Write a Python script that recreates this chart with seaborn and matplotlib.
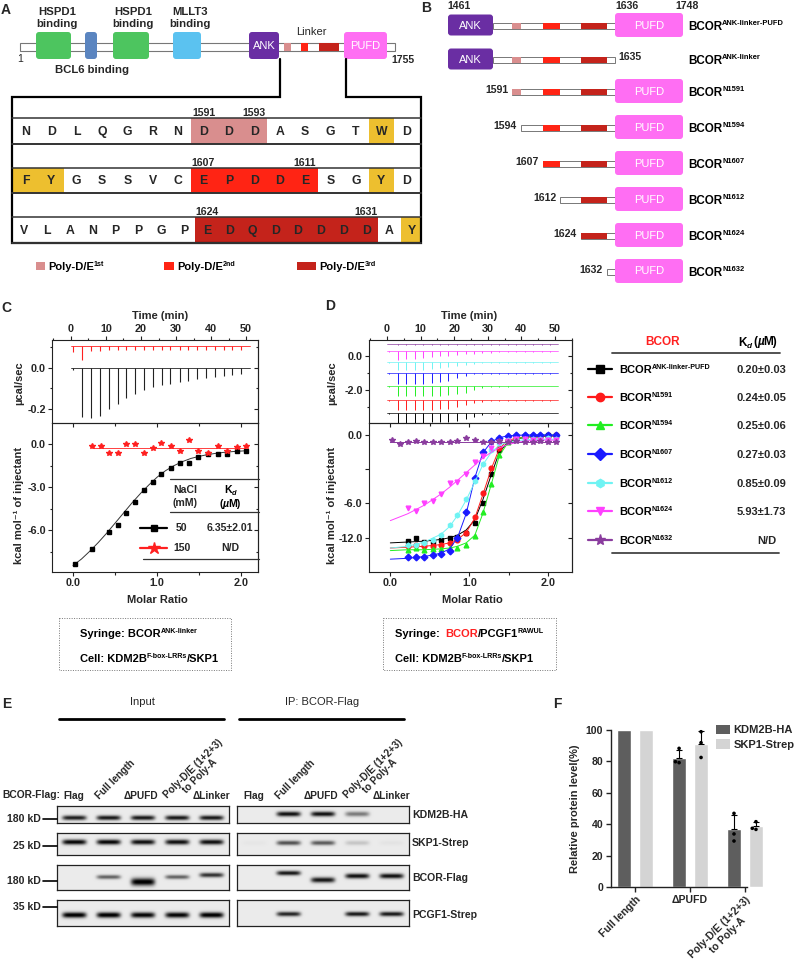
import numpy as np
import pandas as pd
import seaborn as sns
import matplotlib.pyplot as plt
from matplotlib.patches import Rectangle, FancyBboxPatch
from matplotlib.ticker import MultipleLocator, FixedLocator, FixedFormatter, FormatStrFormatter

sns.set_theme(style='ticks')
plt.rcParams['font.family'] = ['Liberation Sans', 'DejaVu Sans']
plt.rcParams['font.weight'] = 'bold'
plt.rcParams['axes.labelweight'] = 'bold'
plt.rcParams['axes.linewidth'] = 0.8

# ---------------- data ----------------
# A: BCOR schematic and linker sequence
domain_names = ['HSPD1\nbinding', 'BCL6 binding', 'HSPD1\nbinding', 'MLLT3\nbinding', 'ANK', 'PUFD']
protein_len = 1755
seq_rows = ['NDLQGRNDDDASGTWD', 'FYGSSVCEPDDESGYD', 'VLANPPGPEDQDDDDDAY']
seq_start = [1584, 1600, 1616]
polyde = [(1591, 1593), (1607, 1611), (1624, 1631)]
polyde_names = ['1st', '2nd', '3rd']
aromatic = 'FWY'

# B: constructs
constructs = ['ANK-linker-PUFD', 'ANK-linker', 'N1591', 'N1594', 'N1607', 'N1612', 'N1624', 'N1632']
con_start = [1461, 1461, 1591, 1594, 1607, 1612, 1624, 1632]
con_end = [1748, 1635, 1748, 1748, 1748, 1748, 1748, 1748]
ank_end = 1553
pufd_start, pufd_end = 1636, 1748

# C: ITC BCOR ANK-linker into KDM2B/SKP1
inj_times = [0.7, 3.2, 5.7, 8.3, 10.8, 13.3, 15.8, 18.3, 20.9, 23.4,
             25.9, 28.4, 31.0, 33.5, 36.0, 38.5, 41.1, 43.6, 46.1, 48.6]
c_raw_50 = [0.01, 0.24, 0.245, 0.235, 0.20, 0.175, 0.148, 0.125, 0.108, 0.095,
            0.086, 0.078, 0.07, 0.063, 0.057, 0.05, 0.044, 0.04, 0.036, 0.032]
c_raw_150 = [0.03, 0.07, 0.025, 0.025, 0.02, 0.02, 0.02, 0.02, 0.02, 0.02,
             0.02, 0.02, 0.02, 0.02, 0.02, 0.02, 0.02, 0.02, 0.02, 0.02]
c_ratio_50 = [0.02, 0.22, 0.43, 0.53, 0.63, 0.74, 0.85, 0.95, 1.05, 1.16,
              1.27, 1.38, 1.49, 1.60, 1.72, 1.83, 1.95, 2.06]
c_heat_50 = [-8.33, -7.28, -6.12, -5.61, -4.77, -4.0, -3.21, -2.67, -2.07, -1.65,
             -1.28, -1.28, -0.88, -0.72, -0.70, -0.67, -0.47, -0.47]
c_fit_x = [0.0, 0.1, 0.2, 0.3, 0.4, 0.5, 0.6, 0.7, 0.8, 0.9, 1.0,
           1.1, 1.2, 1.3, 1.4, 1.5, 1.6, 1.7, 1.8, 1.9, 2.06]
c_fit_50 = [-8.45, -8.0, -7.45, -6.85, -6.2, -5.5, -4.8, -4.1, -3.45, -2.85, -2.3,
            -1.85, -1.5, -1.22, -1.0, -0.85, -0.73, -0.64, -0.57, -0.52, -0.46]
c_ratio_150 = [0.22, 0.33, 0.43, 0.53, 0.63, 0.74, 0.85, 0.95, 1.05, 1.16,
               1.27, 1.38, 1.49, 1.60, 1.72, 1.83, 1.95, 2.06]
c_heat_150 = [-0.14, -0.14, -0.6, -0.6, 0.0, 0.0, -0.6, -0.26, 0.09, -0.12,
              -0.47, 0.26, -0.47, -0.6, -0.14, -0.47, -0.23, -0.12]
c_fit_150 = -0.25
c_salt = ['50', '150']
c_kd = ['6.35\u00b12.01', 'N/D']

# D: ITC BCOR variants / PCGF1 into KDM2B/SKP1
d_names = ['ANK-linker-PUFD', 'N1591', 'N1594', 'N1607', 'N1612', 'N1624', 'N1632']
d_kd = ['0.20\u00b10.03', '0.24\u00b10.05', '0.25\u00b10.06', '0.27\u00b10.03',
        '0.85\u00b10.09', '5.93\u00b11.73', 'N/D']
d_offset = [-3.35, -2.59, -1.76, -1.0, -0.35, 0.29, 0.71]
d_raw = [
    [0.05, 0.58, 0.58, 0.58, 0.57, 0.56, 0.55, 0.52, 0.47, 0.36, 0.22, 0.12, 0.07, 0.05, 0.04, 0.03, 0.03, 0.03, 0.03, 0.03],
    [0.05, 0.60, 0.60, 0.60, 0.58, 0.56, 0.54, 0.50, 0.43, 0.30, 0.18, 0.10, 0.06, 0.05, 0.04, 0.03, 0.03, 0.03, 0.03, 0.03],
    [0.05, 0.60, 0.60, 0.60, 0.59, 0.58, 0.57, 0.55, 0.50, 0.40, 0.26, 0.14, 0.07, 0.05, 0.04, 0.03, 0.03, 0.03, 0.03, 0.03],
    [0.05, 0.65, 0.65, 0.64, 0.62, 0.60, 0.55, 0.45, 0.30, 0.15, 0.08, 0.05, 0.04, 0.03, 0.03, 0.03, 0.03, 0.03, 0.03, 0.03],
    [0.05, 0.50, 0.50, 0.48, 0.45, 0.42, 0.38, 0.32, 0.25, 0.17, 0.11, 0.08, 0.06, 0.05, 0.05, 0.04, 0.04, 0.04, 0.04, 0.04],
    [0.05, 0.50, 0.48, 0.44, 0.40, 0.36, 0.32, 0.28, 0.24, 0.20, 0.16, 0.12, 0.10, 0.08, 0.07, 0.06, 0.06, 0.05, 0.05, 0.05],
    [0.03, 0.06, 0.05, 0.05, 0.05, 0.05, 0.05, 0.05, 0.05, 0.05, 0.05, 0.05, 0.05, 0.05, 0.05, 0.05, 0.05, 0.05, 0.05, 0.05],
]
d_ratio = [0.22, 0.33, 0.43, 0.54, 0.64, 0.75, 0.85, 0.96, 1.07, 1.17,
           1.28, 1.38, 1.49, 1.59, 1.70, 1.80, 1.90, 2.00, 2.10]
d_ratio_n1632 = [0.02, 0.12] + d_ratio
d_heat = [
    [-12.4, -12.0, -12.5, -12.5, -12.3, -12.0, -11.9, -11.5, -10.3, -7.9, -4.5, -1.8, -0.7, -0.3, -0.15, -0.1, -0.1, -0.05, -0.05],
    [-13.0, -12.9, -13.0, -13.0, -12.8, -12.6, -12.3, -11.5, -9.6, -6.8, -3.8, -1.5, -0.6, -0.3, -0.2, -0.1, -0.1, -0.1, -0.05],
    [-13.4, -13.2, -13.4, -13.3, -13.3, -13.2, -13.2, -12.8, -11.8, -9.0, -5.7, -2.3, -0.8, -0.35, -0.15, 0.0, 0.05, 0.0, 0.05],
    [-14.3, -14.3, -14.2, -14.0, -13.9, -13.5, -12.0, -9.0, -5.0, -2.0, -0.7, -0.3, -0.1, 0.0, 0.05, 0.0, 0.05, 0.0, 0.0],
    [-12.9, -12.8, -12.6, -12.3, -11.7, -10.5, -9.3, -7.5, -5.4, -3.4, -1.7, -0.9, -0.6, -0.5, -0.5, -0.5, -0.45, -0.4, -0.45],
    [-8.5, -8.9, -8.0, -7.7, -6.9, -5.6, -5.5, -4.6, -3.2, -2.4, -1.5, -0.8, -0.7, -0.5, -0.5, -0.6, -0.6, -0.55, -0.6],
    [-0.6, -1.1, -0.8, -0.75, -0.8, -0.8, -0.8, -0.85, -0.75, -0.4, -0.6, -0.8, -0.8, -0.75, -0.8, -0.7, -0.8, -0.8, -0.75, -0.8, -0.8],
]
d_fit_x = [0.0, 0.22, 0.43, 0.64, 0.75, 0.85, 0.96, 1.07, 1.17, 1.28, 1.38, 1.49, 1.70, 1.90, 2.10]
d_fit = [
    [-12.6, -12.5, -12.4, -12.2, -12.0, -11.7, -11.1, -9.9, -7.6, -4.6, -2.0, -0.8, -0.25, -0.15, -0.1],
    [-13.2, -13.1, -13.0, -12.8, -12.6, -12.2, -11.4, -9.7, -7.0, -3.9, -1.6, -0.6, -0.2, -0.1, -0.1],
    [-13.5, -13.4, -13.4, -13.3, -13.2, -13.0, -12.6, -11.7, -9.2, -5.7, -2.4, -0.9, -0.2, 0.0, 0.0],
    [-14.5, -14.4, -14.2, -13.8, -13.3, -12.0, -9.2, -5.0, -2.1, -0.8, -0.3, -0.1, 0.0, 0.0, 0.0],
    [-13.2, -13.0, -12.5, -11.6, -10.7, -9.4, -7.6, -5.5, -3.5, -2.0, -1.2, -0.8, -0.55, -0.5, -0.5],
    [-10.0, -9.2, -8.2, -6.9, -6.1, -5.3, -4.4, -3.5, -2.7, -2.0, -1.5, -1.1, -0.7, -0.6, -0.6],
    [-0.8, -0.8, -0.8, -0.8, -0.8, -0.8, -0.8, -0.8, -0.8, -0.8, -0.8, -0.8, -0.8, -0.8, -0.8],
]

# E: co-IP western blots
lane_names = ['Flag', 'Full length', '\u0394PUFD', 'Poly-D/E (1+2+3)\nto Poly-A', '\u0394Linker']
blot_rows = ['KDM2B-HA', 'SKP1-Strep', 'BCOR-Flag', 'PCGF1-Strep']
blot_mw = ['180 kD', '25 kD', '180 kD', '35 kD']
input_bands = [[0.82, 0.85, 0.85, 0.85, 0.85],
               [0.92, 0.92, 0.88, 0.88, 0.88],
               [0.0, 0.55, 0.97, 0.55, 0.75],
               [0.97, 0.97, 0.93, 0.93, 0.97]]
ip_bands = [[0.0, 0.88, 0.88, 0.45, 0.0],
            [0.02, 0.62, 0.58, 0.15, 0.03],
            [0.0, 0.85, 0.85, 0.88, 0.88],
            [0.0, 0.8, 0.0, 0.85, 0.85]]

# F: quantification
f_groups = ['Full length', '\u0394PUFD', 'Poly-D/E (1+2+3)\nto Poly-A']
f_proteins = ['KDM2B-HA', 'SKP1-Strep']
f_kdm2b = [[100, 100, 100], [79.8, 79.2, 88.3], [46.9, 33.8, 29.3]]
f_skp1 = [[100, 100, 100], [98.9, 91.9, 82.5], [41.6, 37.4, 36.7]]

# ---------------- figure ----------------
W, H = 800, 969
fig = plt.figure(figsize=(8, 9.69), dpi=100)
fig.patch.set_facecolor('white')

ov = fig.add_axes([0, 0, 1, 1], zorder=10)
ov.set_xlim(0, W)
ov.set_ylim(H, 0)
ov.axis('off')
ov.patch.set_visible(False)
rend = fig.canvas.get_renderer()


def add_ax(x0, y0, x1, y1):
    return fig.add_axes([x0 / W, 1 - y1 / H, (x1 - x0) / W, (y1 - y0) / H])


def sup(s, fs):
    return (s, dict(size=fs * 0.64, rise=fs * 0.52))


def sub(s, fs, style='italic'):
    return (s, dict(size=fs * 0.7, rise=-fs * 0.28, style=style))


def rich(x, y, parts, fs=8, ha='left', color='black', weight='bold'):
    objs, cur = [], 0.0
    for p in parts:
        if isinstance(p, str):
            p = (p, {})
        s, o = p
        t = ov.text(0, y - o.get('rise', 0), s, fontsize=o.get('size', fs),
                    fontweight=o.get('weight', weight), color=o.get('color', color),
                    style=o.get('style', 'normal'), ha='left', va='baseline')
        cur += o.get('gap', 0)
        objs.append((t, cur))
        cur += t.get_window_extent(rend).width
    shift = {'left': 0, 'center': -cur / 2, 'right': -cur}[ha]
    for t, off in objs:
        t.set_x(x + off + shift)


def rbox(x0, x1, y0, y1, fc, label=None, fs=8):
    ov.add_patch(FancyBboxPatch((x0, y0), x1 - x0, y1 - y0,
                                boxstyle='round,pad=0,rounding_size=3', fc=fc, ec='none'))
    if label:
        ov.text((x0 + x1) / 2, (y0 + y1) / 2 + 0.5, label, color='white', fontsize=fs,
                fontweight='normal', ha='center', va='center')


pd_colors = ['#D98E8E', '#FF2414', '#C4231B']
arom_color = '#EDBF2F'
for lab, x, y in [('A', 6, 10), ('B', 426, 8), ('C', 6, 308), ('D', 330, 306), ('E', 7, 704), ('F', 557, 704)]:
    ov.text(x, y, lab, fontsize=10, ha='center', va='center')

# ---- A ----
ov.add_patch(Rectangle((20, 42.5), 375, 8, fc='white', ec='#777', lw=0.8))
dom_pos = [(36, 71), (85, 97), (113, 149), (173, 201), (249, 279), (344, 387)]
dom_col = ['#4DC55F', '#5B85C0', '#4DC55F', '#5BC2F0', '#6A2EA3', '#FF6EF3']
for name, (x0, x1), col in zip(domain_names, dom_pos, dom_col):
    if name in ('ANK', 'PUFD'):
        rbox(x0, x1, 32, 59, col, name, fs=8)
    else:
        rbox(x0, x1, 32, 59, col)
ov.text(57, 18, domain_names[0], ha='center', va='center', fontsize=8.2, linespacing=1.2)
ov.text(133, 18, domain_names[2], ha='center', va='center', fontsize=8.2, linespacing=1.2)
ov.text(190, 18, domain_names[3], ha='center', va='center', fontsize=8.2, linespacing=1.2)
ov.text(92, 70, domain_names[1], ha='center', va='center', fontsize=8.2)
ov.text(311, 32, 'Linker', ha='center', va='center', fontsize=8, fontweight='normal')
ov.text(20, 59, '1', ha='center', va='center', fontsize=7.5, fontweight='normal')
ov.text(403, 60, str(protein_len), ha='center', va='center', fontsize=7.5)
a_map_res = [1553, 1591, 1594, 1607, 1612, 1624, 1632, 1636]
a_map_px = [279, 284, 291, 301, 308, 319, 339, 344]
for (a, b), col in zip(polyde, pd_colors):
    xa, xb = np.interp([a, b + 1], a_map_res, a_map_px)
    ov.add_patch(Rectangle((xa, 42.5), xb - xa, 8, fc=col, ec='none'))

# zoom box
ov.plot([280, 280, 12, 12, 421, 421, 346, 346], [59, 97, 97, 243, 243, 97, 97, 59],
        color='black', lw=1.6, solid_joinstyle='miter')
row_top, row_bot = [118, 168, 217], [144, 193, 243]
cell_w, cell_x0 = [25.4, 25.4, 22.8], 13
for r, seq in enumerate(seq_rows):
    y0, y1 = row_top[r], row_bot[r]
    for i, aa in enumerate(seq):
        res = seq_start[r] + i
        x = cell_x0 + i * cell_w[r]
        fc = None
        for k, (a, b) in enumerate(polyde):
            if a <= res <= b:
                fc = pd_colors[k]
        if aa in aromatic:
            fc = arom_color
        if fc:
            ov.add_patch(Rectangle((x, y0), min(cell_w[r], 421 - x), y1 - y0, fc=fc, ec='none'))
        ov.text(x + cell_w[r] / 2, (y0 + y1) / 2 + 0.5, aa, ha='center', va='center', fontsize=8.8)
    ov.plot([12, 421], [y0, y0], color='#333', lw=1.1)
    ov.plot([12, 421], [y1, y1], color='#333', lw=1.4)
    for a, b in polyde:
        for res in (a, b):
            i = res - seq_start[r]
            if 0 <= i < len(seq):
                ov.text(cell_x0 + (i + 0.5) * cell_w[r], y0 - 2.5, str(res), ha='center',
                        va='baseline', fontsize=7.6)
leg_x = [(36, 45), (164, 174), (297, 316)]
for (x0, x1), col, nm in zip(leg_x, pd_colors, polyde_names):
    ov.add_patch(Rectangle((x0, 262), x1 - x0, 8, fc=col, ec='none'))
    rich(x1 + 3, 270, ['Poly-D/E', sup(nm, 8)], fs=8)

# ---- B ----
b_res = [1461, 1553, 1591, 1594, 1607, 1612, 1624, 1632, 1636, 1748]
b_px = [448, 493, 512, 521, 543, 560, 581, 607, 615, 683]


def bx(r):
    return float(np.interp(r, b_res, b_px))


b_rows = [25, 59, 91, 127, 163, 199, 235, 271]
ov.text(bx(1461) - 1, 6, '1461', ha='left', va='center', fontsize=7.6)
ov.text(bx(pufd_start), 6, str(pufd_start), ha='left', va='center', fontsize=7.6)
ov.text(bx(pufd_end) + 4, 6, str(pufd_end), ha='center', va='center', fontsize=7.6)
for k, name in enumerate(constructs):
    yc = b_rows[k]
    s, e = con_start[k], con_end[k]
    l0, l1 = max(s, ank_end), min(e + 1, pufd_start)
    ov.add_patch(Rectangle((bx(l0), yc - 2.3), bx(l1) - bx(l0), 6.5, fc='white', ec='#777', lw=0.7))
    for (a, b), col in zip(polyde, pd_colors):
        a2 = max(a, s)
        if b + 1 > a2:
            ov.add_patch(Rectangle((bx(a2), yc - 2.3), bx(b + 1) - bx(a2), 6.5, fc=col, ec='none'))
    if s <= 1461:
        rbox(bx(1461), bx(ank_end), yc - 10.5, yc + 10.5, '#6A2EA3', 'ANK', fs=8)
    if e >= pufd_end:
        rbox(bx(pufd_start), bx(pufd_end), yc - 12, yc + 12, '#FF6EF3', 'PUFD', fs=8)
    else:
        ov.text(bx(e + 1) + 3, yc - 2, str(e), ha='left', va='center', fontsize=7.6)
    if s > 1461:
        ov.text(bx(s) - 4, yc - 1, str(s), ha='right', va='center', fontsize=7.6)
    rich(688, yc + 4.5, ['BCOR', sup(name, 8.4)], fs=8.4)

# ---- C / D ITC ----
def style_itc(at, ab, tlim, mlim, ylt, ylb, yt_major, yt_minor, yb_major, yb_minor):
    at.set_xlim(tlim)
    at.set_ylim(ylt)
    ab.set_xlim(mlim)
    ab.set_ylim(ylb)
    at.xaxis.tick_top()
    at.xaxis.set_major_locator(MultipleLocator(10))
    at.xaxis.set_minor_locator(MultipleLocator(5))
    ab.xaxis.set_major_locator(MultipleLocator(1))
    ab.xaxis.set_minor_locator(MultipleLocator(0.5))
    ab.xaxis.set_major_formatter(FormatStrFormatter('%.1f'))
    at.yaxis.set_major_locator(MultipleLocator(yt_major))
    at.yaxis.set_minor_locator(MultipleLocator(yt_minor))
    at.yaxis.set_major_formatter(FormatStrFormatter('%.1f'))
    if isinstance(yb_major, list):
        ab.yaxis.set_major_locator(FixedLocator(yb_major[0]))
        ab.yaxis.set_major_formatter(FixedFormatter(yb_major[1]))
    else:
        ab.yaxis.set_major_locator(MultipleLocator(yb_major))
        ab.yaxis.set_major_formatter(FormatStrFormatter('%.1f'))
        ab.yaxis.set_minor_locator(MultipleLocator(yb_minor))
    for a in (at, ab):
        a.set_facecolor('none')
        a.tick_params(which='both', direction='out', labelsize=7.8, pad=1.5, width=0.8, color='#222')
        a.tick_params(which='major', length=3)
        a.tick_params(which='minor', length=1.8)
        for sp in a.spines.values():
            sp.set_linewidth(0.8)
            sp.set_color('#222')
    at.spines['bottom'].set_visible(False)
    for a, mj, mn in ((at, yt_major, yt_minor), (ab, yb_major, yb_minor)):
        sec = a.secondary_yaxis('right')
        if isinstance(mj, list):
            sec.yaxis.set_major_locator(FixedLocator(mj[0]))
        else:
            sec.yaxis.set_major_locator(MultipleLocator(mj))
            sec.yaxis.set_minor_locator(MultipleLocator(mn))
        sec.tick_params(which='both', direction='in', labelright=False, width=0.8, color='#222')
        sec.tick_params(which='major', length=3)
        sec.tick_params(which='minor', length=1.8)
        sec.spines['right'].set_linewidth(0.8)
    secx = ab.secondary_xaxis('top')
    secx.xaxis.set_major_locator(MultipleLocator(1))
    secx.xaxis.set_minor_locator(MultipleLocator(0.5))
    secx.tick_params(which='both', direction='in', labeltop=False, width=0.8, color='#222')
    secx.tick_params(which='major', length=3)
    secx.tick_params(which='minor', length=1.8)


cat, cab = add_ax(52, 340, 258, 423), add_ax(52, 423, 258, 572)
style_itc(cat, cab, (-5.4, 53.4), (-0.25, 2.2), (-0.267, 0.133), (-8.9, 1.47), 0.2, 0.1, 3.0, 1.5)
for depth, base, col in ((c_raw_50, 0.0, '#222222'), (c_raw_150, 0.105, '#FF2020')):
    cat.plot([0, 51], [base, base], color=col, lw=0.6)
    cat.vlines(inj_times, base - np.array(depth), base, color=col, lw=0.8)
cab.plot(c_fit_x, c_fit_50, color='#333', lw=0.7)
cab.plot(c_ratio_50, c_heat_50, ls='none', marker='s', ms=3.4, color='black')
cab.plot([c_ratio_150[0], c_ratio_150[-1]], [c_fit_150, c_fit_150], color='#FF4040', lw=0.7)
cab.plot(c_ratio_150, c_heat_150, ls='none', marker='*', ms=4.4, color='#FF2020')

d_cols = ['black', '#FF1A1A', '#22EE22', '#1A1AFF', '#6FF3F3', '#FF40FF', '#8A3C9E']
d_marks = ['s', 'o', '^', 'D', 'h', 'v', '*']
dat, dab = add_ax(369, 340, 572, 423), add_ax(369, 423, 572, 572)
style_itc(dat, dab, (-5.36, 55.1), (-0.27, 2.30), (-3.94, 0.94), (-16, 1.4), 2.0, 1.0,
          [[0, -4, -8, -12], ['0.0', '', '-6.0', '-12.0']], None)
for k in range(len(d_names)):
    base = d_offset[k]
    dat.plot([0, 51], [base, base], color=d_cols[k], lw=0.5)
    dat.vlines(inj_times, base - np.array(d_raw[k]), base, color=d_cols[k], lw=0.7)
    xs = d_ratio_n1632 if k == len(d_names) - 1 else d_ratio
    dab.plot(d_fit_x, d_fit[k], color=d_cols[k], lw=0.7)
    dab.plot(xs, d_heat[k], ls='none', marker=d_marks[k], ms=3.4 if d_marks[k] != '*' else 4.4,
             color=d_cols[k])

for xc, tc in ((19, 160), (332, 469)):
    ov.text(xc, 383, '\u00b5cal/sec', rotation=90, ha='center', va='center', fontsize=8)
    ov.text(xc, 505, 'kcal mol\u207b\u00b9 of injectant', rotation=90, ha='center', va='center', fontsize=8)
    ov.text(tc, 316, 'Time (min)', ha='center', va='center', fontsize=8)
ov.text(157, 600, 'Molar Ratio', ha='center', va='center', fontsize=8)
ov.text(472, 600, 'Molar Ratio', ha='center', va='center', fontsize=8)

# C legend table
ov.plot([170, 259], [479, 479], color='#333', lw=0.9)
ov.plot([170, 259], [512, 512], color='#333', lw=0.9)
ov.plot([143, 259], [559, 559], color='#333', lw=0.9)
ov.text(185, 490, 'NaCl', ha='center', va='center', fontsize=7.6)
ov.text(185, 503, '(mM)', ha='center', va='center', fontsize=7.6)
rich(230, 493, ['K', sub('d', 7.6)], fs=7.6, ha='center')
rich(230, 507, ['(', ('\u00b5', dict(style='italic')), 'M)'], fs=7.6, ha='center')
for y, col, mk, ms, salt, kd in ((528, 'black', 's', 4.5, c_salt[0], c_kd[0]),
                                 (548, '#FF2020', '*', 9, c_salt[1], c_kd[1])):
    ov.plot([140, 153.5, 167], [y, y, y], color=col, lw=1.6, marker=mk, ms=ms, markevery=[1])
    ov.text(182, y, salt, ha='center', va='center', fontsize=7.6)
    ov.text(230, y, kd, ha='center', va='center', fontsize=7.6)

# D legend table
ov.text(663, 342, 'BCOR', ha='center', va='center', fontsize=8.5, color='#FF2020')
rich(758, 345.5, ['K', sub('d', 8.5), ('(', dict(gap=1)), ('\u00b5', dict(style='italic')), 'M)'], fs=8.5, ha='center')
ov.plot([612, 780], [353, 353], color='#444', lw=1.3)
ov.plot([612, 779], [553, 553], color='#444', lw=1.3)
d_leg_y = [369, 397, 425, 454, 483, 511, 540]
for k in range(len(d_names)):
    y = d_leg_y[k]
    ov.plot([588, 600, 612], [y, y, y], color=d_cols[k], lw=1.6, marker=d_marks[k],
            ms=6 if d_marks[k] != '*' else 8, markevery=[1])
    rich(619, y + 3.8, ['BCOR', sup(d_names[k], 8)], fs=8)
    ov.text(786 if d_kd[k] != 'N/D' else 767, y + 1, d_kd[k], ha='right' if d_kd[k] != 'N/D' else 'center',
            va='center', fontsize=8)

# dotted boxes
ov.add_patch(Rectangle((59, 618), 172, 52, fill=False, ls=(0, (1, 1.5)), lw=0.7, ec='#777'))
ov.add_patch(Rectangle((383, 618), 173, 52, fill=False, ls=(0, (1, 1.5)), lw=0.7, ec='#777'))
rich(80, 637, ['Syringe: BCOR', sup('ANK-linker', 8)], fs=8)
rich(80, 662, ['Cell: KDM2B', sup('F-box-LRRs', 8), '/SKP1'], fs=8)
rich(395, 637, ['Syringe: ', ('BCOR', dict(color='#FF2020', gap=2)), '/PCGF1', sup('RAWUL', 8)], fs=8)
rich(395, 662, ['Cell: KDM2B', sup('F-box-LRRs', 8), '/SKP1'], fs=8)

# ---- E ----
blot_cols = {'input': (57, 229), 'ip': (237, 409)}
blot_ys = [(806, 823), (833, 855), (865, 890), (900, 926)]
input_pos = [[0.7] * 5, [0.41] * 5, [0.48, 0.48, 0.68, 0.48, 0.4], [0.58] * 5]
ip_pos = [[0.47] * 5, [0.45] * 5, [0.32, 0.32, 0.6, 0.44, 0.44], [0.54] * 5]
input_thick = [[2.4] * 5, [2.6] * 5, [2.1, 2.1, 3.8, 2.1, 2.3], [2.8] * 5]
ip_thick = [[2.5] * 5, [2.3] * 5, [2.3, 2.3, 2.7, 2.5, 2.5], [2.3] * 5]


def draw_blot(x0, x1, y0, y1, amps, pos, thick):
    ax = add_ax(x0, y0, x1, y1)
    w, h = x1 - x0, y1 - y0
    xx, yy = np.meshgrid(np.linspace(0, w, int(w * 2)), np.linspace(0, h, int(h * 2)))
    img = np.full(xx.shape, 0.08)
    lw_ = w / len(amps)
    for i, (a, p, t) in enumerate(zip(amps, pos, thick)):
        cx = lw_ * (i + 0.5)
        img += a * np.exp(-((xx - cx) / 12) ** 6) * np.exp(-((yy - p * h) / t) ** 2)
    ax.imshow(np.clip(img, 0, 1), cmap='gray_r', vmin=0, vmax=1, aspect='auto',
              interpolation='bilinear')
    ax.set_xticks([])
    ax.set_yticks([])
    for sp in ax.spines.values():
        sp.set_linewidth(0.9)
        sp.set_color('#222')


for r in range(4):
    y0, y1 = blot_ys[r]
    draw_blot(*blot_cols['input'], y0, y1, input_bands[r], input_pos[r], input_thick[r])
    draw_blot(*blot_cols['ip'], y0, y1, ip_bands[r], ip_pos[r], ip_thick[r])
mw_y = [819, 846, 881, 907]
lab_y = [815, 843, 878, 915]
for r in range(4):
    ov.text(41, mw_y[r], blot_mw[r], ha='right', va='center', fontsize=7.6)
    ov.plot([43, 57], [mw_y[r], mw_y[r]], color='black', lw=1.2)
    ov.text(412, lab_y[r], blot_rows[r], ha='left', va='center', fontsize=7.6)

ov.text(2, 795, 'BCOR-Flag:', ha='left', va='center', fontsize=7.4)
for key, title in (('input', 'Input'), ('ip', 'IP: BCOR-Flag')):
    x0, x1 = blot_cols[key]
    ov.text((x0 + x1) / 2 - 1, 702, title, ha='center', va='center', fontsize=8, fontweight='normal')
    ov.plot([x0 + 2, x1 - 5], [719, 719], color='black', lw=2)
    lane_w = (x1 - x0) / 5
    for i, nm in enumerate(lane_names):
        cx = x0 + lane_w * (i + 0.5)
        if '\n' in nm:
            l1, l2 = nm.split('\n')
            ov.text(cx - 10, 799, l1, rotation=45, rotation_mode='anchor', ha='left',
                    va='baseline', fontsize=7.2)
            ov.text(cx + 9, 794, l2, rotation=45, rotation_mode='anchor', ha='left',
                    va='baseline', fontsize=7.2)
        elif ' ' in nm:
            ov.text(cx - 9, 800, nm, rotation=45, rotation_mode='anchor', ha='left',
                    va='baseline', fontsize=7.2)
        else:
            ov.text(cx - (2 if i == 2 else 0), 796, nm, ha='center', va='center', fontsize=7.3)

# ---- F ----
rows = []
for g, kv, sv in zip(f_groups, f_kdm2b, f_skp1):
    for v in kv:
        rows.append((g, f_proteins[0], v))
    for v in sv:
        rows.append((g, f_proteins[1], v))
df_f = pd.DataFrame(rows, columns=['group', 'protein', 'value'])
f_pal = ['#5E5E5E', '#D4D4D4']
axf = add_ax(611, 730, 790, 887)
sns.barplot(data=df_f, x='group', y='value', hue='protein', order=f_groups, hue_order=f_proteins,
            palette=f_pal, width=0.8, gap=0.36, errorbar=None, legend=False, ax=axf)
stats = df_f.groupby(['group', 'protein'], sort=False)['value'].agg(['mean', 'std'])
for gi, g in enumerate(f_groups[1:], start=1):
    for hi, p in enumerate(f_proteins):
        m, s = stats.loc[(g, p)]
        axf.errorbar(gi + (hi - 0.5) * 0.4, m, yerr=[[0], [s]], color='black', lw=0.8,
                     capsize=2.2, capthick=0.8, clip_on=False, zorder=4)
sns.swarmplot(data=df_f[df_f['group'] != f_groups[0]], x='group', y='value', hue='protein',
              order=f_groups, hue_order=f_proteins, palette=['black', 'black'], dodge=True,
              size=2.6, legend=False, ax=axf, clip_on=False, zorder=5)
axf.set_xlim(-0.44, 2.82)
axf.set_ylim(0, 100)
axf.yaxis.set_major_locator(MultipleLocator(20))
axf.spines['top'].set_visible(False)
axf.spines['right'].set_visible(False)
axf.spines['bottom'].set_bounds(-0.44, 2.04)
for sp in ('left', 'bottom'):
    axf.spines[sp].set_linewidth(1.0)
    axf.spines[sp].set_color('#222')
axf.tick_params(labelsize=7.6, length=3.5, width=1.0, pad=2, color='#222')
axf.set_xlabel('')
axf.set_ylabel('Relative protein level(%)', fontsize=8, fontweight='bold', labelpad=4)
axf.set_xticks([0, 1, 2])
axf.set_xticklabels(f_groups)
for i, lbl in enumerate(axf.get_xticklabels()):
    if i == 1:
        lbl.set_rotation(0)
        lbl.set_ha('center')
    else:
        lbl.set_rotation(45)
        lbl.set_rotation_mode('anchor')
        lbl.set_ha('right')
        lbl.set_va('top')
        lbl.set_multialignment('center')
axf.legend(handles=[Rectangle((0, 0), 1, 1, fc=c, ec='none') for c in f_pal], labels=f_proteins,
           loc='upper left', bbox_to_anchor=(0.56, 1.06), frameon=False, fontsize=8,
           handlelength=1.3, handleheight=0.9, handletextpad=0.3, labelspacing=0.35,
           borderaxespad=0)

fig.savefig('out.png', dpi=100)
